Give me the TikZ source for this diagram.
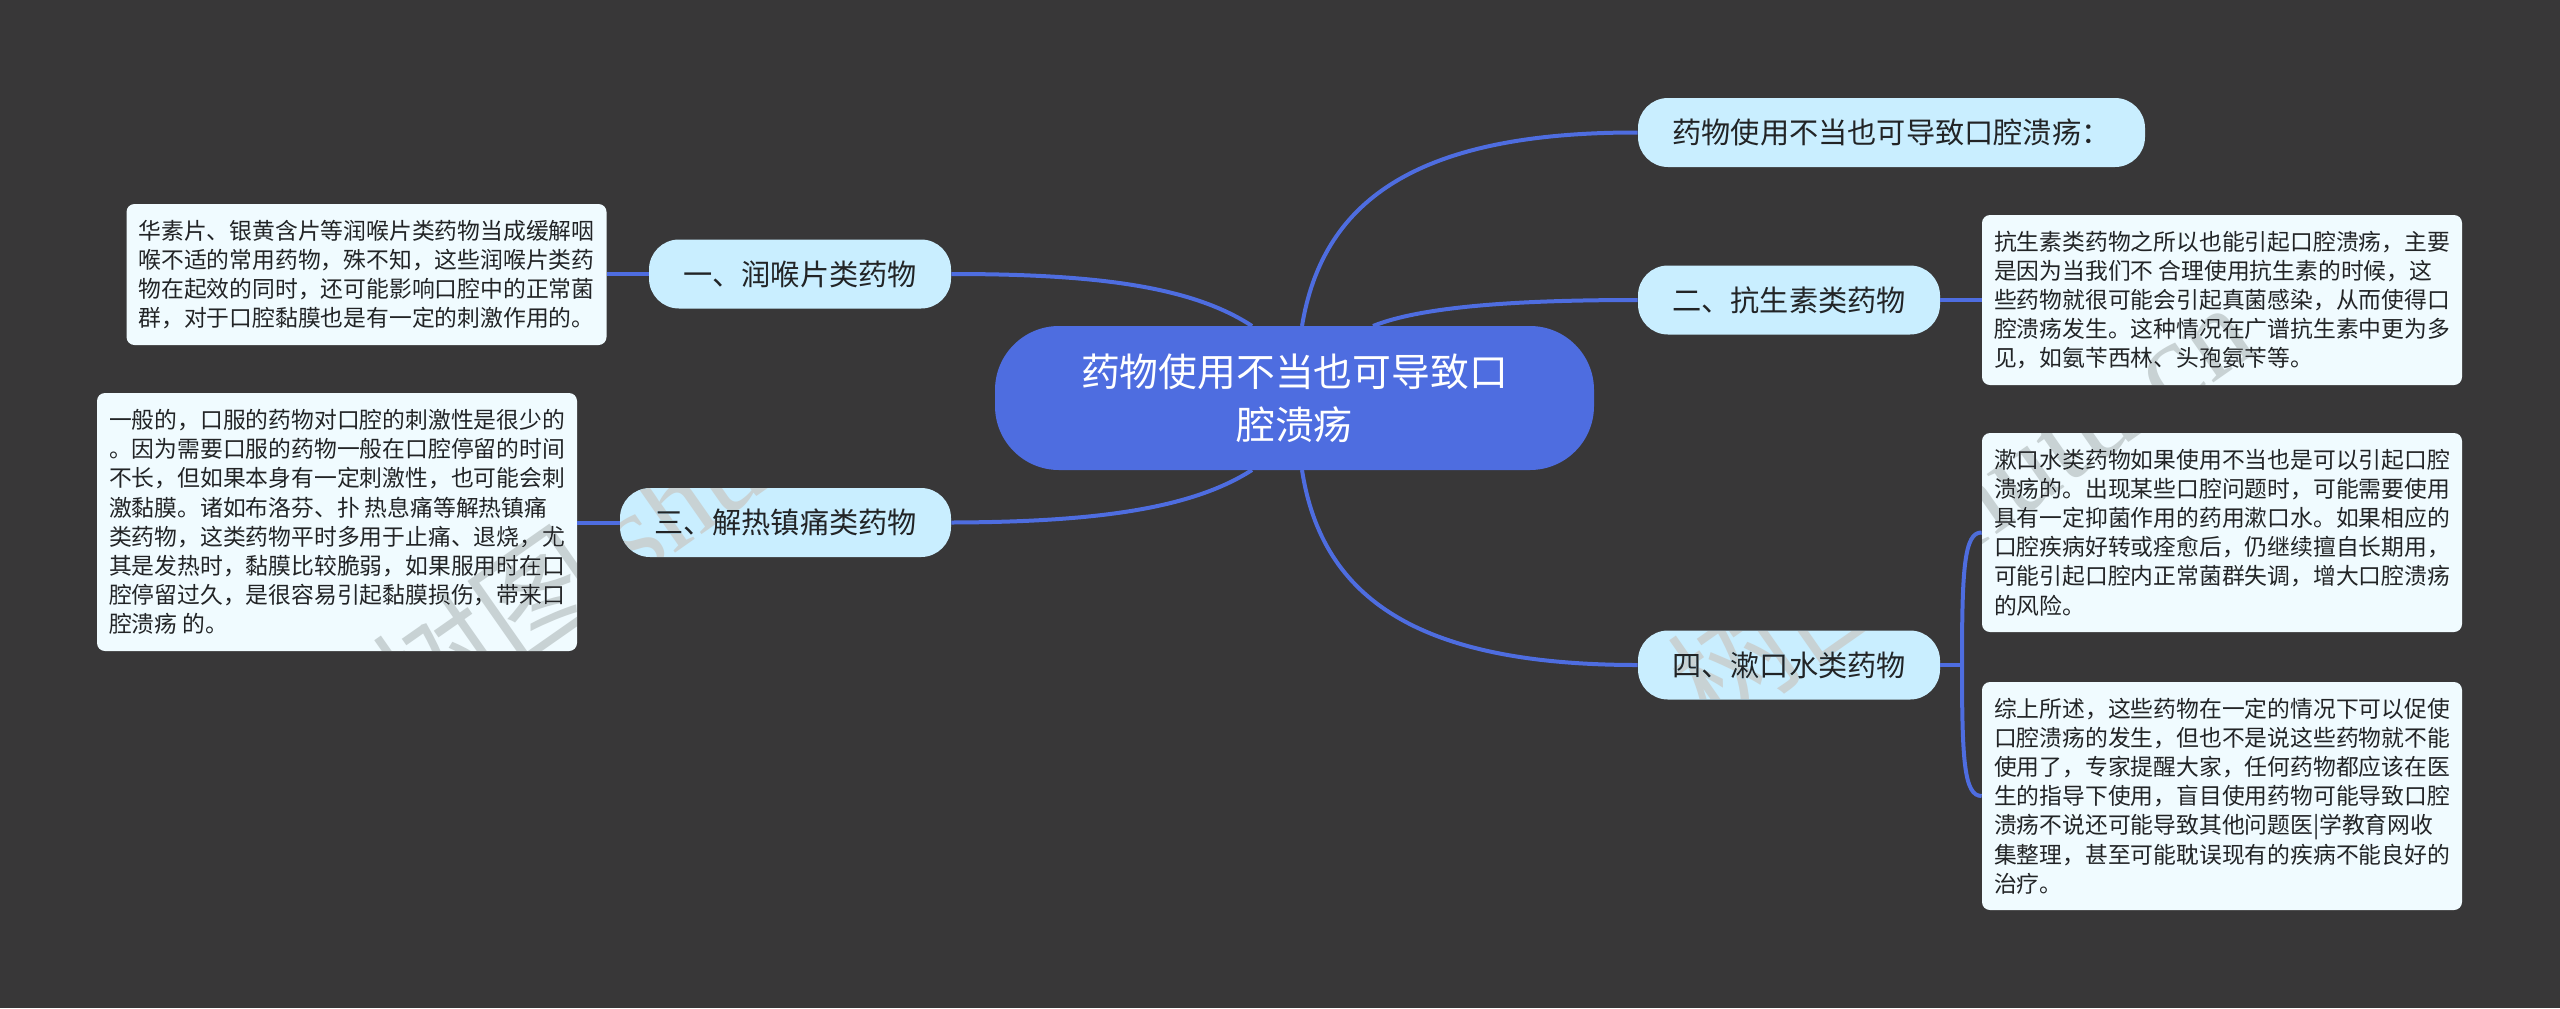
\documentclass[tikz,border=0pt]{standalone}
\usepackage{fontspec}
\setmainfont{Noto Sans CJK SC}
\newfontfamily\markserif{Liberation Serif}
\definecolor{bgdark}{HTML}{383738}
\definecolor{rootblue}{HTML}{4E6DE0}
\definecolor{pillblue}{HTML}{C9EEFF}
\definecolor{leafwhite}{HTML}{F0FBFF}
\definecolor{inkdark}{HTML}{222426}
\definecolor{markgray}{HTML}{C8D2D4}
\tikzset{
  rootbox/.style={fill=rootblue,text=white,rounded corners=32pt,align=center,inner sep=0pt,
    font=\fontsize{19.4}{26.5}\selectfont,minimum width=299.5pt,minimum height=72pt},
  pillbox/.style={fill=pillblue,text=inkdark,rounded corners=15pt,align=center,inner sep=0pt,
    font=\fontsize{14.6}{18}\selectfont,minimum height=34.5pt},
  leafbox/.style={fill=leafwhite,text=inkdark,rounded corners=4pt,align=left,inner sep=0pt,
    font=\fontsize{11.4}{14.6}\selectfont,minimum width=240pt},
  linkline/.style={draw=rootblue,line width=2pt},
  markword/.style={text=markgray,rotate=35,font=\fontsize{60}{60}\selectfont}
}
\begin{document}
\begin{tikzpicture}[x=0.5pt,y=-0.5pt]
  \useasboundingbox (0,0) rectangle (2560,1008);
  \fill[bgdark] (0,0) rectangle (2560,1008);
  \coordinate (rootTL) at (1252,326);
  \coordinate (rootTM) at (1302,326);
  \coordinate (rootTR) at (1373,326);
  \coordinate (rootBL) at (1252,470);
  \coordinate (rootBM) at (1302,470);
  \coordinate (fork) at (1962,665);
  \node[rootbox] (root) at (1294.5,398) {药物使用不当也可导致口\\腔溃疡};
  \node[pillbox,minimum width=253.5pt] (top) at (1891.5,132.5) {药物使用不当也可导致口腔溃疡：};
  \node[pillbox,minimum width=151pt] (one) at (800,274) {一、润喉片类药物};
  \node[pillbox,minimum width=151pt] (two) at (1789,300) {二、抗生素类药物};
  \node[pillbox,minimum width=165.5pt] (three) at (785.5,522.5) {三、解热镇痛类药物};
  \node[pillbox,minimum width=151pt] (four) at (1789,665) {四、漱口水类药物};
  \node[leafbox,minimum height=70.5pt] (leafone) at (366.5,274.5) {华素片、银黄含片等润喉片类药物当成缓解咽\\喉不适的常用药物，殊不知，这些润喉片类药\\物在起效的同时，还可能影响口腔中的正常菌\\群，对于口腔黏膜也是有一定的刺激作用的。};
  \node[leafbox,minimum height=85pt] (leaftwo) at (2222,300) {抗生素类药物之所以也能引起口腔溃疡，主要\\是因为当我们不 合理使用抗生素的时候，这\\些药物就很可能会引起真菌感染，从而使得口\\腔溃疡发生。这种情况在广谱抗生素中更为多\\见，如氨苄西林、头孢氨苄等。};
  \node[leafbox,minimum height=129pt] (leafthree) at (337,522) {一般的，口服的药物对口腔的刺激性是很少的\\。因为需要口服的药物一般在口腔停留的时间\\不长，但如果本身有一定刺激性，也可能会刺\\激黏膜。诸如布洛芬、扑 热息痛等解热镇痛\\类药物，这类药物平时多用于止痛、退烧，尤\\其是发热时，黏膜比较脆弱，如果服用时在口\\腔停留过久，是很容易引起黏膜损伤，带来口\\腔溃疡 的。};
  \node[leafbox,minimum height=99.5pt] (leaffour) at (2222,532.5) {漱口水类药物如果使用不当也是可以引起口腔\\溃疡的。出现某些口腔问题时，可能需要使用\\具有一定抑菌作用的药用漱口水。如果相应的\\口腔疾病好转或痊愈后，仍继续擅自长期用，\\可能引起口腔内正常菌群失调，增大口腔溃疡\\的风险。};
  \node[leafbox,minimum height=114pt] (leaffive) at (2222,796) {综上所述，这些药物在一定的情况下可以促使\\口腔溃疡的发生，但也不是说这些药物就不能\\使用了，专家提醒大家，任何药物都应该在医\\生的指导下使用，盲目使用药物可能导致口腔\\溃疡不说还可能导致其他问题医|学教育网收\\集整理，甚至可能耽误现有的疾病不能良好的\\治疗。};
  \draw[linkline] (rootTM) .. controls (1322,205) and (1410,132) .. (top.west);
  \draw[linkline] (rootTR) .. controls (1425,305) and (1530,300) .. (two.west);
  \draw[linkline] (rootBM) .. controls (1322,600) and (1420,665) .. (four.west);
  \draw[linkline] (rootTL) .. controls (1190,285) and (1090,274) .. (one.east);
  \draw[linkline] (rootBL) .. controls (1190,510) and (1090,522) .. (three.east);
  \draw[linkline] (one.west)--(leafone.east|-one.west);
  \draw[linkline] (two.east)--(leaftwo.west);
  \draw[linkline] (three.west)--(leafthree.east|-three.west);
  \draw[linkline] (four.east)--(fork);
  \draw[linkline] (fork) .. controls (1962,570) and (1964,532) .. (leaffour.west);
  \draw[linkline] (fork) .. controls (1962,760) and (1964,796) .. (leaffive.west);
  \begin{scope}[blend mode=darken]
    \node[markword] (markleft) at (665,505) {树图 {\markserif shutu.cn}};
    \node[markword] (markright) at (1960,505) {树图 {\markserif shutu.cn}};
  \end{scope}
\end{tikzpicture}
\end{document}
